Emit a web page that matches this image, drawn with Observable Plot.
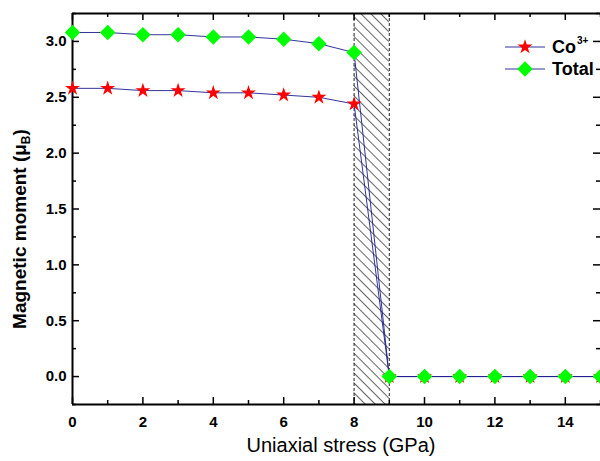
<!DOCTYPE html>
<html>
<head>
<meta charset="utf-8">
<script src="https://cdn.jsdelivr.net/npm/d3@7"></script>
<script src="https://cdn.jsdelivr.net/npm/@observablehq/plot@0.6"></script>
<style>
  html, body { margin: 0; padding: 0; background: #fff; }
  #chart { position: relative; width: 600px; height: 461px; overflow: hidden; }
</style>
</head>
<body>
<div id="chart"></div>
<script>
// ---- data ----
const stress = [0, 1, 2, 3, 4, 5, 6, 7, 8, 9, 10, 11, 12, 13, 14, 15];
const co3 = [2.58, 2.58, 2.56, 2.56, 2.54, 2.54, 2.52, 2.50, 2.44, 0, 0, 0, 0, 0, 0, 0];
const total = [3.08, 3.08, 3.06, 3.06, 3.04, 3.04, 3.02, 2.98, 2.90, 0, 0, 0, 0, 0, 0, 0];
const seriesNames = ["Co", "Total"];
const xTickLabels = [0, 2, 4, 6, 8, 10, 12, 14];
const xMinorTicks = [1, 3, 5, 7, 9, 11, 13, 15];
const yTickLabels = [0, 0.5, 1.0, 1.5, 2.0, 2.5, 3.0];
const yMinorTicks = [-0.25, 0.25, 0.75, 1.25, 1.75, 2.25, 2.75, 3.25];
const transitionBand = [{x1: 8, x2: 9}];
const xTitle = "Uniaxial stress (GPa)";

const coData = stress.map((x, i) => ({x, y: co3[i]}));
const totData = stress.map((x, i) => ({x, y: total[i]}));

const W = 600, H = 461, mL = 72, mR = 0, mT = 13, mB = 57;
const pW = W - mL - mR, pH = H - mT - mB;
const font = "'Liberation Sans', Arial, sans-serif";
const lineColor = "#1c1c8f";
const starR = 4.7, diaR = 7;

const plot = Plot.plot({
  width: W, height: H,
  marginLeft: mL, marginRight: mR, marginTop: mT, marginBottom: mB,
  style: {fontFamily: font, background: "#fff", overflow: "visible"},
  x: {domain: [0, 15], axis: null},
  y: {domain: [-0.25, 3.25], axis: null},
  marks: [
    Plot.rect(transitionBand, {x1: "x1", x2: "x2", fill: "url(#hatch)"}),
    Plot.ruleX([8, 9], {stroke: "#222", strokeWidth: 1, strokeDasharray: "3,2"}),
    // ticks (inward)
    Plot.tickX(xTickLabels, {x: d => d, insetTop: pH - 7, stroke: "#000", strokeWidth: 1.5}),
    Plot.tickX(xMinorTicks, {x: d => d, insetTop: pH - 4, stroke: "#000", strokeWidth: 1.5}),
    Plot.tickX(xTickLabels, {x: d => d, insetBottom: pH - 7, stroke: "#000", strokeWidth: 1.5}),
    Plot.tickX(xMinorTicks, {x: d => d, insetBottom: pH - 4, stroke: "#000", strokeWidth: 1.5}),
    Plot.tickY(yTickLabels, {y: d => d, insetRight: pW - 7, stroke: "#000", strokeWidth: 1.5}),
    Plot.tickY(yMinorTicks, {y: d => d, insetRight: pW - 4, stroke: "#000", strokeWidth: 1.5}),
    Plot.tickY(yTickLabels, {y: d => d, insetLeft: pW - 7, stroke: "#000", strokeWidth: 1.5}),
    Plot.tickY(yMinorTicks, {y: d => d, insetLeft: pW - 4, stroke: "#000", strokeWidth: 1.5}),
    // frame lines
    Plot.ruleX([0], {stroke: "#000", strokeWidth: 2}),
    Plot.ruleY([-0.25], {stroke: "#000", strokeWidth: 2}),
    Plot.ruleY([3.25], {stroke: "#000", strokeWidth: 2}),
    // axis labels
    Plot.axisX(xTickLabels, {tickSize: 0, tickPadding: 12, fontSize: 15, fontWeight: "bold", label: null, fill: "#000"}),
    Plot.axisY(yTickLabels, {tickSize: 0, tickPadding: 6, fontSize: 15, fontWeight: "bold", label: null, tickFormat: d3.format(".1f"), fill: "#000"}),
    // series
    Plot.line(coData, {x: "x", y: "y", stroke: lineColor, strokeWidth: 0.9}),
    Plot.line(totData, {x: "x", y: "y", stroke: lineColor, strokeWidth: 0.9}),
    Plot.dot(coData, {x: "x", y: "y", symbol: "star", r: starR, fill: "#ff0000", stroke: "none"}),
    Plot.dot(totData, {x: "x", y: "y", symbol: "diamond2", r: diaR, fill: "#00ff00", stroke: "none"})
  ]
});

const svg = d3.select(plot);
// hatch pattern
const defs = svg.insert("defs", ":first-child");
const ps = 7;
const pat = defs.append("pattern")
  .attr("id", "hatch").attr("patternUnits", "userSpaceOnUse")
  .attr("width", ps).attr("height", ps)
  .attr("patternTransform", "rotate(-45)");
pat.append("rect").attr("width", ps).attr("height", ps).attr("fill", "#fff");
pat.append("line").attr("x1", 0.5).attr("y1", 0).attr("x2", 0.5).attr("y2", ps)
  .attr("stroke", "#555").attr("stroke-width", 0.9);

// axis titles
svg.append("text").attr("x", 341).attr("y", 452).attr("text-anchor", "middle")
  .attr("font-family", font).attr("font-size", 20).attr("fill", "#000").text(xTitle);
const yt = svg.append("text").attr("transform", "translate(26,229) rotate(-90)")
  .attr("text-anchor", "middle").attr("font-family", font).attr("font-weight", "bold")
  .attr("font-size", 19).attr("fill", "#000");
yt.append("tspan").text("Magnetic moment (μ");
yt.append("tspan").attr("font-size", 12).attr("dy", 4).text("B");
yt.append("tspan").attr("dy", -4).text(")");

// legend
const lg = svg.append("g").attr("font-family", font).attr("font-weight", "bold")
  .attr("font-size", 18).attr("text-anchor", "start");
const rows = [
  {name: seriesNames[0], sup: "3+", sym: d3.symbolStar, size: Math.PI * starR * starR, fill: "#ff0000", y: 47},
  {name: seriesNames[1], sup: null, sym: d3.symbolDiamond2, size: Math.PI * diaR * diaR, fill: "#00ff00", y: 69}
];
rows.forEach(r => {
  lg.append("line").attr("x1", 505).attr("x2", 545).attr("y1", r.y).attr("y2", r.y)
    .attr("stroke", lineColor).attr("stroke-width", 0.9);
  lg.append("path").attr("d", d3.symbol(r.sym, r.size)()).attr("transform", `translate(525,${r.y})`).attr("fill", r.fill);
  const t = lg.append("text").attr("x", 552).attr("y", r.y + 6).attr("fill", "#000");
  t.append("tspan").text(r.name);
  if (r.sup) t.append("tspan").attr("font-size", 10).attr("dy", -9).attr("dx", 1).text(r.sup);
});

document.getElementById("chart").appendChild(plot);
</script>
</body>
</html>
